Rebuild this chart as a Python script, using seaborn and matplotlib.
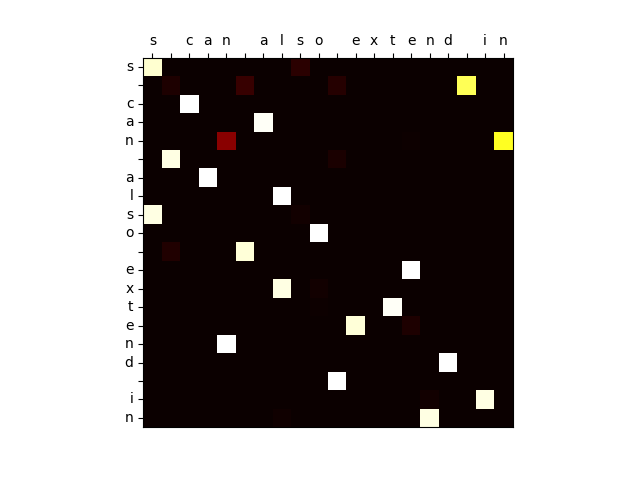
import matplotlib
matplotlib.use("Agg")
import matplotlib.pyplot as plt
import numpy as np
import seaborn as sns

# input / output characters of "s can also extend in"
tokens = list("s can also extend in")

# attention weights, one row per output character
attention = [
    [0.95, 0, 0, 0, 0, 0, 0, 0, 0.05, 0, 0, 0, 0, 0, 0, 0, 0, 0, 0, 0],
    [0, 0.03, 0, 0, 0, 0.07, 0, 0, 0, 0, 0.04, 0, 0, 0, 0, 0, 0, 0.83, 0, 0],
    [0, 0, 1.0, 0, 0, 0, 0, 0, 0, 0, 0, 0, 0, 0, 0, 0, 0, 0, 0, 0],
    [0, 0, 0, 0, 0, 0, 0.99, 0, 0, 0, 0, 0, 0, 0, 0, 0, 0, 0, 0, 0],
    [0, 0, 0, 0, 0.19, 0, 0, 0, 0, 0, 0, 0, 0, 0, 0.005, 0, 0, 0, 0, 0.78],
    [0, 0.97, 0, 0, 0, 0, 0, 0, 0, 0, 0.025, 0, 0, 0, 0, 0, 0, 0, 0, 0],
    [0, 0, 0, 1.0, 0, 0, 0, 0, 0, 0, 0, 0, 0, 0, 0, 0, 0, 0, 0, 0],
    [0, 0, 0, 0, 0, 0, 0, 1.0, 0, 0, 0, 0, 0, 0, 0, 0, 0, 0, 0, 0],
    [0.97, 0, 0, 0, 0, 0, 0, 0, 0.015, 0, 0, 0, 0, 0, 0, 0, 0, 0, 0, 0],
    [0, 0, 0, 0, 0, 0, 0, 0, 0, 1.0, 0, 0, 0, 0, 0, 0, 0, 0, 0, 0],
    [0, 0.035, 0, 0, 0, 0.96, 0, 0, 0, 0, 0, 0, 0, 0, 0, 0, 0, 0, 0, 0],
    [0, 0, 0, 0, 0, 0, 0, 0, 0, 0, 0, 0, 0, 0, 1.0, 0, 0, 0, 0, 0],
    [0, 0, 0, 0, 0, 0, 0, 0.97, 0, 0.012, 0, 0, 0, 0, 0, 0, 0, 0, 0, 0],
    [0, 0, 0, 0, 0, 0, 0, 0, 0, 0.005, 0, 0, 0, 0.99, 0, 0, 0, 0, 0, 0],
    [0, 0, 0, 0, 0, 0, 0, 0, 0, 0, 0, 0.96, 0, 0, 0.03, 0, 0, 0, 0, 0],
    [0, 0, 0, 0, 1.0, 0, 0, 0, 0, 0, 0, 0, 0, 0, 0, 0, 0, 0, 0, 0],
    [0, 0, 0, 0, 0, 0, 0, 0, 0, 0, 0, 0, 0, 0, 0, 0, 1.0, 0, 0, 0],
    [0, 0, 0, 0, 0, 0, 0, 0, 0, 0, 1.0, 0, 0, 0, 0, 0, 0, 0, 0, 0],
    [0, 0, 0, 0, 0, 0, 0, 0, 0, 0, 0, 0, 0, 0, 0, 0.015, 0, 0, 0.97, 0],
    [0, 0, 0, 0, 0, 0, 0, 0.008, 0, 0, 0, 0, 0, 0, 0, 0.97, 0, 0, 0, 0],
]

fig, ax = plt.subplots(figsize=(6.4, 4.8), dpi=100)
sns.heatmap(np.array(attention), cmap="hot", vmin=0, vmax=1, cbar=False,
            square=True, xticklabels=tokens, yticklabels=tokens, ax=ax)

ax.xaxis.tick_top()
ax.tick_params(axis="both", length=3.5, width=0.8, labelsize=10)
plt.setp(ax.get_xticklabels(), rotation=0)
plt.setp(ax.get_yticklabels(), rotation=0)
for sp in ax.spines.values():
    sp.set_visible(True)
    sp.set_linewidth(0.8)

fig.savefig("out.png", dpi=100)
